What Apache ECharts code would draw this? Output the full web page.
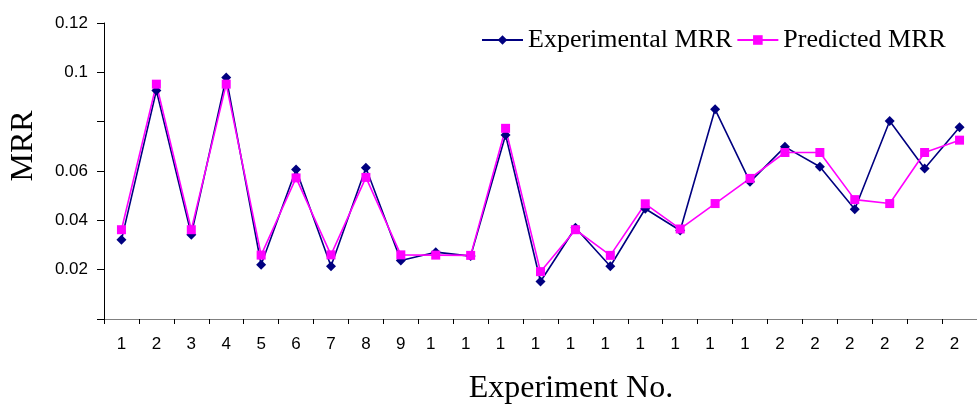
<!DOCTYPE html>
<html>
<head>
<meta charset="utf-8">
<script src="https://cdn.jsdelivr.net/npm/echarts@6/dist/echarts.min.js"></script>
<style>
  html, body { margin: 0; padding: 0; background: #fff; }
  #chart { width: 977px; height: 405px; }
</style>
</head>
<body>
<div id="chart"></div>
<script>
// Experiment numbers along the x axis
const experiments = [1, 2, 3, 4, 5, 6, 7, 8, 9, 10, 11, 12, 13, 14, 15, 16, 17, 18, 19, 20, 21, 22, 23, 24, 25];

// Labels printed under each category (only the leading digit fits)
const xTickLabels = ['1', '2', '3', '4', '5', '6', '7', '8', '9',
  '1', '1', '1', '1', '1', '1', '1', '1', '1', '1',
  '2', '2', '2', '2', '2', '2'];

// Measured material removal rate
const experimentalMRR = [0.0321, 0.0926, 0.0342, 0.0979, 0.0220, 0.0606, 0.0214, 0.0613, 0.0237,
  0.0271, 0.0255, 0.0746, 0.0152, 0.0370, 0.0214, 0.0447, 0.0359, 0.0850, 0.0556,
  0.0698, 0.0617, 0.0445, 0.0803, 0.0610, 0.0777];

// Model prediction of the material removal rate
const predictedMRR = [0.0362, 0.0952, 0.0362, 0.0952, 0.0259, 0.0572, 0.0260, 0.0574, 0.0260,
  0.0259, 0.0258, 0.0773, 0.0192, 0.0362, 0.0258, 0.0467, 0.0365, 0.0468, 0.0570,
  0.0675, 0.0675, 0.0484, 0.0468, 0.0675, 0.0725];

// Value axis labels (blank where the label is left out)
const yTickValues = [0, 0.02, 0.04, 0.06, 0.08, 0.1, 0.12];
const yTickLabels = ['', '0.02', '0.04', '0.06', '', '0.1', '0.12'];

const sans = '"Liberation Sans", Arial, sans-serif';
const serif = '"Liberation Serif", "Times New Roman", serif';

const chart = echarts.init(document.getElementById('chart'), null, { renderer: 'canvas' });

chart.setOption({
  animation: false,
  backgroundColor: '#ffffff',
  grid: { left: 104, top: 23, width: 881, height: 296, containLabel: false },
  legend: {
    left: 481,
    top: 27,
    padding: 0,
    itemWidth: 41,
    itemHeight: 12,
    itemGap: 4,
    textStyle: { fontFamily: serif, fontSize: 26, color: '#000', padding: [0, 0, 0, 0] },
    data: ['Experimental MRR', 'Predicted MRR']
  },
  xAxis: {
    type: 'category',
    data: experiments,
    boundaryGap: true,
    axisLine: { lineStyle: { color: '#808080', width: 1 } },
    axisTick: { show: true, length: 5, lineStyle: { color: '#000' }, alignWithLabel: false },
    axisLabel: {
      interval: 0,
      margin: 17,
      fontFamily: sans,
      fontSize: 17,
      color: '#000',
      formatter: function (value, index) {
        const txt = xTickLabels[index];
        return String(value).length > 1 ? '{w|' + txt + '}' : txt;
      },
      rich: {
        w: { fontFamily: sans, fontSize: 17, color: '#000', padding: [0, 10, 0, 0] }
      }
    },
    splitLine: { show: false }
  },
  yAxis: {
    type: 'value',
    min: 0,
    max: 0.12,
    interval: 0.02,
    axisLine: { show: true, lineStyle: { color: '#000', width: 1 } },
    axisTick: { show: true, length: 7, lineStyle: { color: '#000' } },
    axisLabel: {
      margin: 16,
      fontFamily: sans,
      fontSize: 17,
      color: '#000',
      formatter: function (value) {
        for (let i = 0; i < yTickValues.length; i++) {
          if (Math.abs(yTickValues[i] - value) < 1e-9) return yTickLabels[i];
        }
        return '';
      }
    },
    splitLine: { show: false }
  },
  graphic: [
    {
      type: 'text',
      x: 24,
      y: 146,
      rotation: Math.PI / 2,
      style: {
        text: 'MRR',
        font: '32px ' + serif,
        fill: '#000',
        align: 'center',
        verticalAlign: 'middle'
      }
    },
    {
      type: 'text',
      x: 571,
      y: 389,
      style: {
        text: 'Experiment No.',
        font: '32px ' + serif,
        fill: '#000',
        align: 'center',
        verticalAlign: 'middle'
      }
    }
  ],
  series: [
    {
      name: 'Experimental MRR',
      type: 'line',
      data: experimentalMRR,
      symbol: 'diamond',
      symbolSize: 10,
      showAllSymbol: true,
      color: '#000080',
      lineStyle: { color: '#000080', width: 1.6 },
      itemStyle: { color: '#000080' }
    },
    {
      name: 'Predicted MRR',
      type: 'line',
      data: predictedMRR,
      symbol: 'rect',
      symbolSize: 9,
      showAllSymbol: true,
      color: '#ff00ff',
      lineStyle: { color: '#ff00ff', width: 1.6 },
      itemStyle: { color: '#ff00ff' }
    }
  ]
});
</script>
</body>
</html>
